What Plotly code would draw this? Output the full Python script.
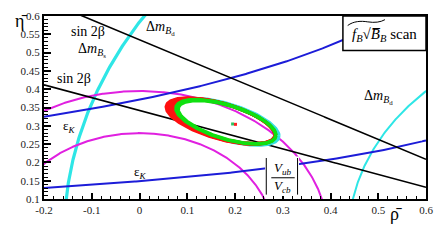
import numpy as np
import plotly.graph_objects as go

# ---- constraint parameters ----
vub_radii = [0.28, 0.395]                 # |Vub/Vcb| circles centred at (0,0)
dmd_radii = [0.562, 1.158]                # Delta m circles centred at (1,0)
dm_widths = [2, 3.2]
sin2b_intercepts = [0.535, 0.342]         # sin2beta lines: eta = a + b*rho
sin2b_slopes = [-0.544, -0.35]
epsk_consts = [0.52, 0.208]               # eps_K hyperbolae: eta = C/(d - rho)
epsk_d = [1.4, 1.4]

# fit ellipses: (rho centre, eta centre, half-width, half-height, colour)
ell_rho_c = [0.181, 0.170, 0.172, 0.174, 0.176, 0.178, 0.181, 0.183]
ell_eta_c = [0.311, 0.313, 0.313, 0.312, 0.312, 0.311, 0.311, 0.310]
ell_hw = [0.111, 0.114, 0.112, 0.110, 0.108, 0.106, 0.105, 0.102]
ell_hh = [0.064, 0.063, 0.062, 0.062, 0.061, 0.061, 0.061, 0.059]
ell_col = ["#33e0e0", "#ff1010", "#ff1010", "#ff1010", "#ff1010", "#ff1010",
           "#10e010", "#10e010"]
ell_phase_deg = 127

best_rho = [0.195, 0.201]
best_eta = [0.305, 0.304]
best_col = ["#30c060", "#ff2020"]

x_ticks = [-0.2, -0.1, 0, 0.1, 0.2, 0.3, 0.4, 0.5, 0.6]
x_ticktext = ["-0.2", "-0.1", "0", "0.1", "0.2", "0.3", "0.4", "0.5", "0.6"]
y_ticks = [0.1, 0.15, 0.2, 0.25, 0.3, 0.35, 0.4, 0.45, 0.5, 0.55, 0.6]
y_ticktext = ["0.1", "0.15", "0.2", "0.25", "0.3", "0.35", "0.4", "0.45", "0.5", "0.55", "0.6"]

SERIF = "Liberation Serif, Times New Roman, DejaVu Serif, serif"
fig = go.Figure()

# Delta m circles (cyan)
th = np.linspace(0, np.pi / 2 + 0.6, 600)
for r, w in zip(dmd_radii, dm_widths):
    rho = 1 - r * np.cos(th)
    eta = r * np.sin(th)
    fig.add_trace(go.Scatter(x=rho, y=eta, mode="lines",
                             line=dict(color="#2ee6e6", width=w), hoverinfo="skip"))

# |Vub/Vcb| circles (magenta)
th = np.linspace(0, np.pi, 600)
for r in vub_radii:
    fig.add_trace(go.Scatter(x=r * np.cos(th), y=r * np.sin(th), mode="lines",
                             line=dict(color="#e020e0", width=2), hoverinfo="skip"))

# eps_K hyperbolae (blue)
rr = np.linspace(-0.2, 0.6, 300)
for c, d in zip(epsk_consts, epsk_d):
    fig.add_trace(go.Scatter(x=rr, y=c / (d - rr), mode="lines",
                             line=dict(color="#1c1cd8", width=2), hoverinfo="skip"))

# sin2beta lines (black)
for a, b in zip(sin2b_intercepts, sin2b_slopes):
    fig.add_trace(go.Scatter(x=rr, y=a + b * rr, mode="lines",
                             line=dict(color="black", width=1.6), hoverinfo="skip"))

# fit ellipses
t = np.linspace(0, 2 * np.pi, 300)
ph = np.deg2rad(ell_phase_deg)
for xc, yc, hw, hh, col in zip(ell_rho_c, ell_eta_c, ell_hw, ell_hh, ell_col):
    fig.add_trace(go.Scatter(x=xc + hw * np.cos(t), y=yc + hh * np.cos(t + ph),
                             mode="lines", line=dict(color=col, width=3.4),
                             hoverinfo="skip"))

fig.add_trace(go.Scatter(x=best_rho, y=best_eta, mode="markers",
                         marker=dict(color=best_col, size=3, symbol="square"),
                         hoverinfo="skip"))

# white patch behind |Vub/Vcb| label and legend box
shapes = [
    dict(type="rect", xref="x", yref="y", x0=0.263, x1=0.334, y0=0.108, y1=0.216,
         fillcolor="white", line=dict(width=0), layer="above"),
    dict(type="line", xref="x", yref="y", x0=0.2655, x1=0.2655, y0=0.112, y1=0.212,
         line=dict(color="black", width=1), layer="above"),
    dict(type="line", xref="x", yref="y", x0=0.331, x1=0.331, y0=0.112, y1=0.212,
         line=dict(color="black", width=1), layer="above"),
    dict(type="line", xref="x", yref="y", x0=0.276, x1=0.325, y0=0.158, y1=0.158,
         line=dict(color="black", width=1), layer="above"),
    dict(type="rect", xref="x", yref="y", x0=0.426, x1=0.6, y0=0.506, y1=0.6,
         fillcolor="white", line=dict(color="black", width=1.5), layer="above"),
    dict(type="path", xref="x", yref="y",
         path="M 0.436 0.574 C 0.448 0.586, 0.464 0.587, 0.478 0.584 C 0.492 0.581, 0.505 0.583, 0.514 0.590",
         line=dict(color="black", width=1), layer="above"),
]

def ann(x, y, text, size=13, **kw):
    d = dict(x=x, y=y, xref="x", yref="y", text=text, showarrow=False,
             font=dict(family=SERIF, size=size, color="black"))
    d.update(kw)
    return d

annotations = [
    ann(-0.108, 0.558, "sin 2β", 14),
    ann(-0.100, 0.507, "Δ<i>m</i><sub><i>B</i><sub>s</sub></sub>", 14),
    ann(-0.137, 0.430, "sin 2β", 14),
    ann(0.045, 0.566, "Δ<i>m</i><sub><i>B</i><sub>d</sub></sub>", 14),
    ann(0.500, 0.378, "Δ<i>m</i><sub><i>B</i><sub>d</sub></sub>", 14),
    ann(-0.147, 0.297, "ε<sub><i>K</i></sub>", 13),
    ann(0.001, 0.173, "ε<sub><i>K</i></sub>", 13),
    ann(0.300, 0.183, "<i>V</i><sub><i>ub</i></sub>", 13),
    ann(0.300, 0.133, "<i>V</i><sub><i>cb</i></sub>", 13),
    ann(0.513, 0.547, "<i>f</i><sub><i>B</i></sub>√<i>B̅</i><sub><i>B</i></sub> scan", 15),
    dict(x=-0.082, y=1.04, xref="paper", yref="paper", yanchor="top", text="η̄",
         showarrow=False, font=dict(family=SERIF, size=18, color="black")),
    dict(x=0.943, y=-0.145, xref="paper", yref="paper", text="ρ̄", showarrow=False,
         font=dict(family=SERIF, size=18, color="black")),
]

fig.update_layout(
    width=443, height=241,
    margin=dict(l=44, r=11, t=10, b=42),
    paper_bgcolor="white", plot_bgcolor="white",
    showlegend=False,
    font=dict(family=SERIF),
    shapes=shapes, annotations=annotations,
    xaxis=dict(range=[-0.2, 0.6], tickvals=x_ticks, ticktext=x_ticktext,
               showgrid=False, zeroline=False, showline=True, mirror=True,
               linecolor="black", linewidth=2, ticks="inside", ticklen=6,
               tickwidth=1.5, tickcolor="black", ticklabelstandoff=0,
               minor=dict(ticks="inside", dtick=0.02, ticklen=3, tickcolor="black", tickwidth=1.2),
               tickfont=dict(family=SERIF, size=11, color="#222")),
    yaxis=dict(range=[0.1, 0.6], tickvals=y_ticks, ticktext=y_ticktext,
               showgrid=False, zeroline=False, showline=True, mirror=True,
               linecolor="black", linewidth=2, ticks="inside", ticklen=7,
               tickwidth=1.5, tickcolor="black",
               minor=dict(ticks="inside", dtick=0.01, ticklen=4, tickcolor="black", tickwidth=1.2),
               tickfont=dict(family=SERIF, size=11, color="#222")),
)

fig.write_html("out.html", config={"displayModeBar": False},
               post_script="document.body.style.margin='0';")
